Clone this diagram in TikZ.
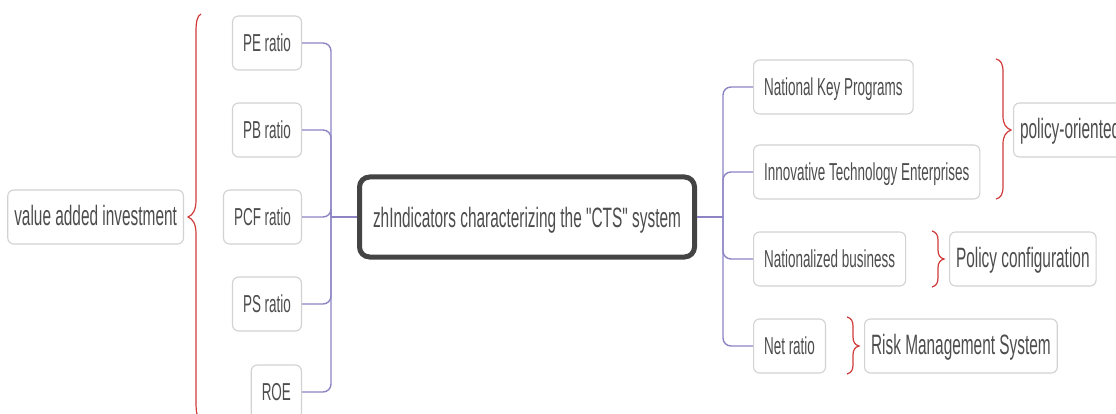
\documentclass[tikz,border=0pt]{standalone}
\usepackage{fontspec}
\newfontfamily\labelfont[FakeStretch=0.55]{Liberation Sans}
\definecolor{txt}{HTML}{4D4D4D}
\definecolor{boxline}{HTML}{D2D2D2}
\definecolor{rootline}{HTML}{444444}
\definecolor{conn}{HTML}{8C84C4}
\definecolor{bracered}{HTML}{D03A3A}
\tikzset{
  leaf/.style={draw=boxline, line width=1.1pt, rounded corners=6pt, fill=white,
    text=txt, inner xsep=10.5pt, minimum height=54pt,
    font=\labelfont\fontsize{24.5}{28}\selectfont, text height=19pt, text depth=2pt},
  bigleaf/.style={leaf, inner xsep=6.5pt, font=\labelfont\fontsize{28}{32}\selectfont,
    text height=21pt, text depth=4pt},
  rootbox/.style={draw=rootline, line width=5pt, rounded corners=10pt, fill=white,
    text=txt, minimum width=335pt, minimum height=80pt,
    font=\labelfont\fontsize{28}{32}\selectfont, text height=22pt, text depth=1pt},
  link/.style={draw=conn, line width=1.4pt, rounded corners=8pt},
  bracepath/.style={draw=bracered, line width=1.2pt}
}
\begin{document}
\begin{tikzpicture}[x=1pt, y=-1pt]
\useasboundingbox (0,0) rectangle (1116,414);

% central topic
\node[rootbox] (root) at (527,217) {zhIndicators characterizing the "CTS" system};

% left branch: valuation ratios
\node[leaf, anchor=east] (pe)  at (302,43)  {PE ratio};
\node[leaf, anchor=east] (pb)  at (302,130) {PB ratio};
\node[leaf, anchor=east] (pcf) at (302,217) {PCF ratio};
\node[leaf, anchor=east] (ps)  at (302,304) {PS ratio};
\node[leaf, anchor=east] (roe) at (302,392) {ROE};
\node[bigleaf, anchor=east] (value) at (184,217) {value added investment};

% right branch: policy indicators
\node[leaf, anchor=west] (nkp) at (753,87)  {National Key Programs};
\node[leaf, anchor=west] (ite) at (753,172) {Innovative Technology Enterprises};
\node[leaf, anchor=west] (nat) at (753,259) {Nationalized business};
\node[leaf, anchor=west] (net) at (753,346) {Net ratio};
\node[bigleaf, anchor=west] (pol)  at (1013,130) {policy-oriented};
\node[bigleaf, anchor=west] (conf) at (949,259)  {Policy configuration};
\node[bigleaf, anchor=west] (risk) at (864,346)  {Risk Management System};

% junctions on the two trunks
\coordinate (lj) at (331,217);
\coordinate (rj) at (723,217);

% connectors
\draw[link] (root.west) -- (lj);
\foreach \c in {pe,pb,pcf,ps,roe} \draw[link] (lj) |- (\c.east);
\draw[link] (root.east) -- (rj);
\foreach \c in {nkp,ite,nat,net} \draw[link] (rj) |- (\c.west);

% summary braces
\draw[bracepath] (201,14) .. controls (197,16) and (196,22) .. (196,32)
  -- (196,200) .. controls (196,210) and (193,215) .. (188,217)
  .. controls (193,219) and (196,224) .. (196,234)
  -- (196,402) .. controls (196,412) and (197,418) .. (201,420);
\draw[bracepath] (996,59) .. controls (1001,60) and (1003,64) .. (1003,72)
  -- (1003,116) .. controls (1003,124) and (1006,128) .. (1011,130)
  .. controls (1006,132) and (1003,136) .. (1003,144)
  -- (1003,186) .. controls (1003,194) and (1001,198) .. (996,199);
\draw[bracepath] (932,231) .. controls (936,232) and (938,235) .. (938,240)
  -- (938,250) .. controls (938,255) and (940,258) .. (944,259)
  .. controls (940,260) and (938,263) .. (938,268)
  -- (938,278) .. controls (938,283) and (936,286) .. (932,287);
\draw[bracepath] (847,317) .. controls (851,318) and (853,321) .. (853,326)
  -- (853,337) .. controls (853,342) and (855,345) .. (859,346)
  .. controls (855,347) and (853,350) .. (853,355)
  -- (853,365) .. controls (853,370) and (851,373) .. (847,374);
\end{tikzpicture}
\end{document}
